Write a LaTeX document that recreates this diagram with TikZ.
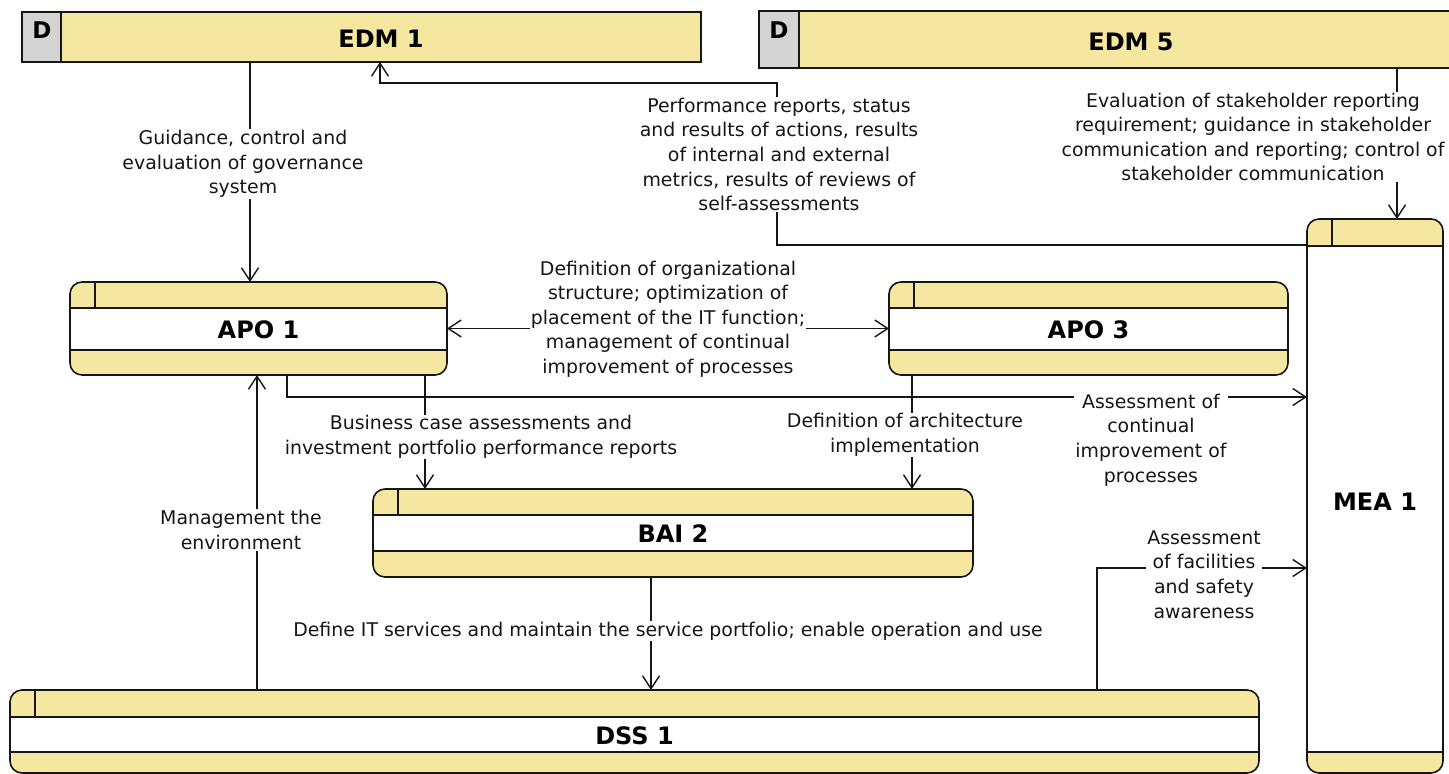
\documentclass[tikz,border=0pt]{standalone}
\usepackage{fontspec}
\setmainfont{DejaVu Sans}
\usetikzlibrary{arrows.meta}
\definecolor{boxyellow}{RGB}{246,231,160}
\definecolor{dgray}{RGB}{212,212,212}
\definecolor{ink}{RGB}{22,22,22}
\tikzset{
  conn/.style={draw=ink, line width=1.4pt},
  arr/.style={conn, -{Straight Barb[length=13pt,width=17pt]}},
  dblarr/.style={conn, {Straight Barb[length=13pt,width=17pt]}-{Straight Barb[length=13pt,width=17pt]}},
  lbl/.style={fill=white, inner sep=1pt, align=center, text=ink,
    font=\fontsize{18.9}{24.6}\selectfont},
  blabel/.style={font=\fontsize{24}{28}\selectfont\bfseries, text=black, inner sep=0pt},
  dlabel/.style={font=\fontsize{23}{24}\selectfont\bfseries, text=black, inner sep=0pt},
  boxframe/.style={draw=ink, line width=1.6pt},
  area/.style={inner sep=0pt, outer sep=0pt}
}
% #1 name, #2 x1, #3 y1, #4 x2, #5 y2, #6 top stripe bottom, #7 bottom stripe top, #8 label, #9 label y
\newcommand{\procbox}[9]{%
  \fill[boxyellow, rounded corners=12pt] (#2,#3) rectangle (#4,#5);
  \fill[white] (#2,#6) rectangle (#4,#7);
  \draw[boxframe] (#2,#6) -- (#4,#6) (#2,#7) -- (#4,#7) ({#2+25},#3) -- ({#2+25},#6);
  \draw[boxframe, rounded corners=12pt] (#2,#3) rectangle (#4,#5);
  \node[area, minimum width={#4-#2}, minimum height={#5-#3}] (#1) at ({(#2+#4)/2},{(#3+#5)/2}) {};
  \node[blabel] (#1-text) at ({(#2+#4)/2},#9) {#8};
}
\begin{document}
\begin{tikzpicture}[x=1pt,y=-1pt]
\useasboundingbox (0,0) rectangle (1449,774);
\clip (0,0) rectangle (1449,774);
\fill[white] (0,0) rectangle (1449,774);

% EDM 1
\fill[boxyellow] (22,12) rectangle (701,62);
\fill[dgray] (22,12) rectangle (61,62);
\draw[boxframe] (22,12) rectangle (701,62) (61,12) -- (61,62);
\node[area, minimum width=679, minimum height=50] (edm1) at (361.5,37) {};
\node[blabel] (edm1-text) at (381,39) {EDM 1};
\node[dlabel] (edm1-d) at (42,30) {D};

% EDM 5
\fill[boxyellow] (759,11) rectangle (1455,68);
\fill[dgray] (759,11) rectangle (799,68);
\draw[boxframe] (1455,11) -- (759,11) -- (759,68) -- (1455,68) (799,11) -- (799,68);
\node[area, minimum width=696, minimum height=57] (edm5) at (1107,39.5) {};
\node[blabel] (edm5-text) at (1131,42) {EDM 5};
\node[dlabel] (edm5-d) at (779,30) {D};

% process boxes
\procbox{apo1}{70}{282}{447}{375}{308}{350}{APO 1}{330}
\procbox{apo3}{889}{282}{1288}{375}{308}{350}{APO 3}{330}
\procbox{bai2}{373}{489}{973}{577}{515}{551}{BAI 2}{534}
\procbox{dss1}{10}{690}{1259}{773}{717}{752}{DSS 1}{736}
\procbox{mea1}{1307}{219}{1443}{773}{246}{752}{MEA 1}{502}

% connectors
\coordinate (k2) at (777,83);
\draw[arr] (edm1.south -| 250,0) -- (apo1.north -| 250,0);
\draw[arr] (mea1.west |- 0,245) -| (k2) -| (edm1.south -| 380,0);
\draw[arr] (edm5.south -| 1397,0) -- (mea1.north -| 1397,0);
\draw[dblarr] (apo1.east) -- (apo3.west);
\draw[arr] (apo1.south -| 287,0) |- (mea1.west |- 0,397);
\draw[arr] (apo1.south -| 425,0) -- (bai2.north -| 425,0);
\draw[arr] (apo3.south -| 912,0) -- (bai2.north -| 912,0);
\draw[arr] (bai2.south -| 651,0) -- (dss1.north -| 651,0);
\draw[arr] (dss1.north -| 257,0) -- (apo1.south -| 257,0);
\draw[arr] (dss1.north -| 1097,0) |- (mea1.west |- 0,568);

% connector labels
\node[lbl] (t1) at (243,164) {Guidance, control and\\evaluation of governance\\system};
\node[lbl] (t2) at (779,154.5) {Performance reports, status\\and results of actions, results\\of internal and external\\metrics, results of reviews of\\self-assessments};
\node[lbl] (t3) at (1253,137) {Evaluation of stakeholder reporting\\requirement; guidance in stakeholder\\communication and reporting; control of\\stakeholder communication};
\node[lbl] (t4) at (668,319) {Definition of organizational\\structure; optimization of\\placement of the IT function;\\management of continual\\improvement of processes};
\node[lbl] (t5) at (1151,440) {Assessment of\\continual\\improvement of\\processes};
\node[lbl] (t6) at (481,437) {Business case assessments and\\investment portfolio performance reports};
\node[lbl] (t7) at (905,435) {Definition of architecture\\implementation};
\node[lbl] (t8) at (668,631) {Define IT services and maintain the service portfolio; enable operation and use};
\node[lbl] (t9) at (241,530) {Management the\\environment};
\node[lbl] (t10) at (1204,574.5) {Assessment\\of facilities\\and safety\\awareness};
\end{tikzpicture}
\end{document}
